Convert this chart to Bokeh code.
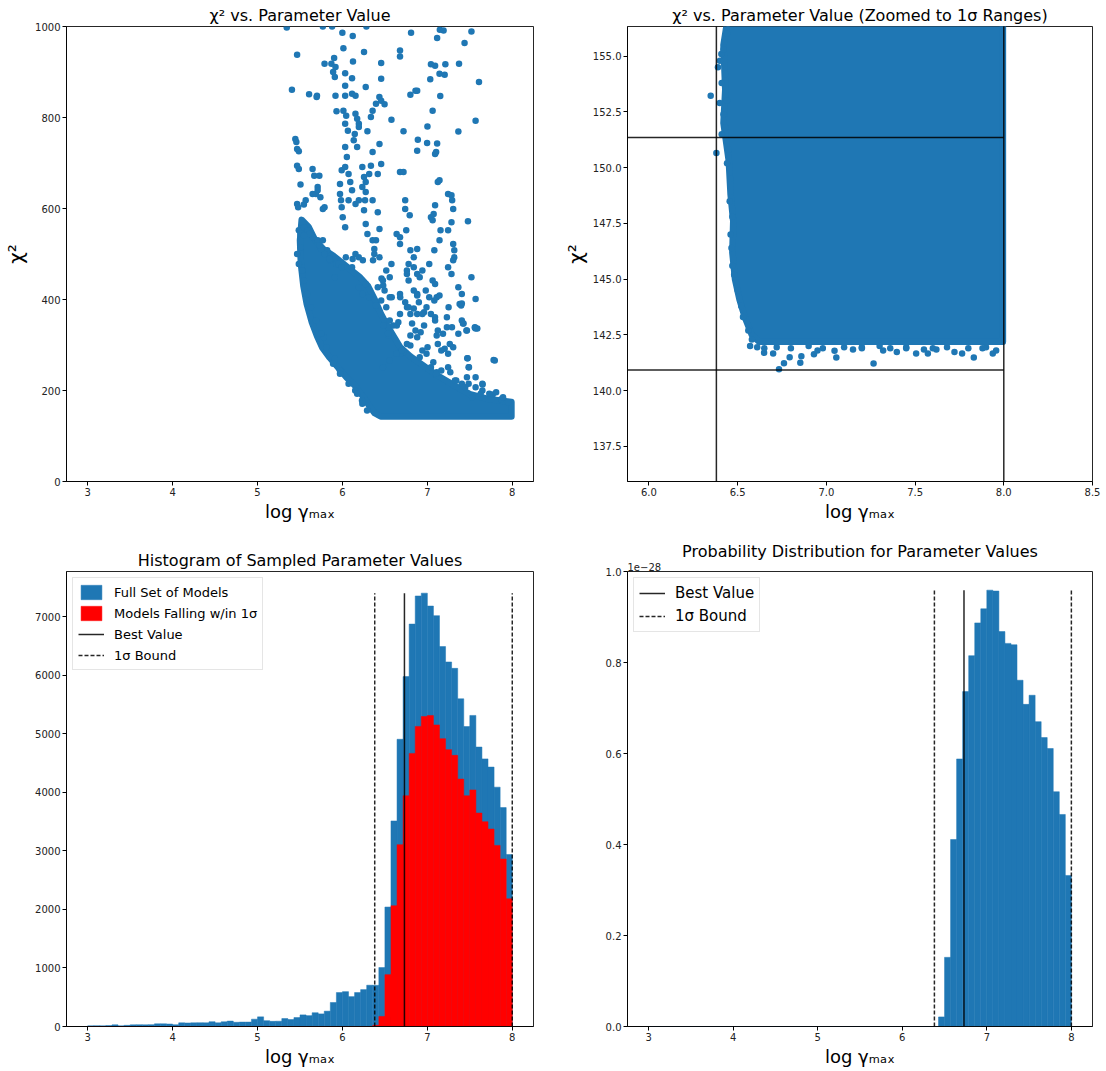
import numpy as np
from bokeh.plotting import figure
from bokeh.layouts import column, row
from bokeh.models import (FixedTicker, NumeralTickFormatter, Legend, LegendItem,
                          Title, Range1d)
from bokeh.embed import file_html
from bokeh.resources import INLINE

BLUE = "#1f77b4"
RED = "#ff0000"
FONT = "DejaVu Sans"

# ---------------- data ----------------
bin_lo, bin_hi, n_bins = 3.0, 8.0, 70

full_counts = [12, 14, 12, 16, 28, 12, 20, 28, 30, 28,
               32, 45, 45, 42, 30, 62, 60, 62, 64, 62,
               82, 62, 80, 92, 72, 75, 75, 125, 165, 100,
               88, 90, 135, 118, 152, 198, 185, 235, 215, 262,
               410, 580, 595, 510, 580, 630, 705, 703, 1007, 2040,
               3510, 4905, 5975, 6872, 7352, 7400, 7180, 7016, 6488, 6225,
               6116, 5596, 5122, 5312, 4772, 4570, 4430, 4087, 3738, 2936]

within_counts = [0] * 47 + [20, 172, 885,
                            2062, 3105, 3940, 4664, 5124, 5294, 5310, 5150, 4915, 4728,
                            4630, 4225, 3940, 4040, 3645, 3497, 3372, 3093, 2860, 2180]

# probability distribution, in units of 1e-28
prob_values = [0.0] * 48 + [0.021, 0.152, 0.411,
                            0.588, 0.736, 0.815, 0.887, 0.918, 0.959, 0.957, 0.868, 0.842, 0.839,
                            0.761, 0.708, 0.728, 0.670, 0.635, 0.611, 0.516, 0.466, 0.332]

best_value = 6.73
sigma_bounds = [6.38, 8.0]
chi2_best = 140.93
chi2_sigma = 151.35

# sparse models (chi2 vs log gamma_max)
outlier_logg = [5.344, 5.769, 5.878, 6.282, 5.999, 6.121, 7.147, 7.191, 7.519, 6.808, 7.115, 7.438, 5.466, 6.011, 6.254, 6.678, 6.678, 6.456, 6.124, 5.902, 5.789, 5.870, 5.918, 5.890, 5.910, 6.032, 6.113, 6.456, 7.042, 7.091, 7.143, 7.204, 7.034, 7.212, 7.373, 7.608, 5.405, 5.607, 5.700, 5.696, 5.918, 6.032, 6.113, 6.154, 6.274, 6.032, 6.800, 6.860, 6.880, 7.152, 6.435, 6.456, 6.395, 6.355, 6.335, 6.496, 5.930, 6.011, 6.044, 6.032, 6.064, 6.153, 6.173, 6.193, 6.193, 6.145, 6.133, 6.173, 6.294, 6.577, 6.719, 7.062, 7.568, 6.888, 6.880, 7.001, 7.103, 7.091, 7.365, 6.997, 7.115, 5.445, 5.457, 5.466, 5.486, 5.466, 5.486, 5.506, 5.648, 5.668, 5.728, 5.648, 5.688, 5.740, 5.789, 5.769, 5.567, 5.546, 5.466, 5.478, 5.708, 5.708, 5.991, 5.971, 5.971, 5.983, 5.991, 6.003, 6.032, 6.032, 6.052, 6.032, 6.072, 6.092, 6.113, 6.072, 6.154, 6.234, 6.254, 6.234, 6.274, 6.335, 6.315, 6.274, 6.355, 6.436, 6.456, 6.416, 6.193, 6.254, 6.266, 6.416, 6.355, 6.577, 6.436, 6.395, 6.375, 6.436, 6.274, 6.294, 6.355, 6.375, 6.678, 6.719, 6.739, 6.739, 6.792, 6.638, 6.678, 6.678, 6.751, 6.800, 6.840, 6.880, 6.779, 6.840, 6.880, 6.759, 6.759, 6.779, 6.840, 6.880, 6.900, 6.840, 6.880, 7.022, 6.941, 7.042, 7.062, 7.123, 7.143, 7.091, 7.155, 7.074, 7.143, 7.082, 7.062, 7.091, 6.981, 7.022, 7.082, 7.143, 7.042, 7.091, 6.961, 7.244, 7.284, 7.292, 7.304, 7.284, 7.244, 7.304, 7.317, 7.317, 7.304, 7.284, 7.244, 7.365, 7.406, 7.398, 7.406, 7.426, 7.466, 7.406, 7.365, 7.478, 7.519, 7.568, 7.568, 7.588, 7.474, 7.486, 7.794, 7.648, 7.123, 7.204, 7.244, 7.164, 7.264, 7.304, 7.184, 7.123, 7.002, 6.941, 6.921, 6.880, 6.800, 6.759, 6.699, 6.941, 6.961, 6.678, 6.658, 6.557, 6.516, 6.557, 6.597, 6.537, 6.416, 6.476, 6.496, 6.516, 6.456, 6.395, 6.234, 6.315, 6.274, 6.193, 6.153, 6.193, 6.113, 5.951, 5.991, 5.910, 5.789, 5.850, 5.749, 5.708, 5.728, 5.769, 5.607, 5.547, 6.678, 6.739, 6.779, 6.800, 6.557, 6.638, 6.557, 6.476, 7.042, 7.103, 7.164, 7.244, 7.325, 7.406, 7.486, 7.568, 7.648, 7.729, 7.810, 7.891, 7.952, 7.628, 7.527, 7.446, 7.568, 7.466]
outlier_chi2 = [998, 1000, 1000, 1000, 986, 979, 993, 991, 989, 986, 975, 964, 938, 952, 944, 947, 934, 920, 923, 931, 918, 918, 911, 900, 889, 897, 886, 885, 917, 914, 896, 894, 884, 917, 918, 878, 861, 851, 848, 845, 848, 848, 852, 848, 867, 870, 850, 859, 859, 847, 845, 837, 830, 815, 801, 829, 814, 815, 804, 786, 771, 808, 797, 786, 779, 764, 750, 735, 770, 795, 770, 815, 793, 751, 727, 780, 724, 720, 769, 744, 743, 753, 746, 731, 726, 694, 687, 653, 687, 672, 672, 632, 632, 625, 603, 599, 618, 609, 610, 603, 647, 640, 684, 654, 632, 618, 603, 581, 559, 735, 713, 691, 676, 658, 640, 618, 610, 691, 669, 647, 636, 694, 676, 658, 724, 742, 698, 676, 618, 596, 618, 592, 618, 478, 555, 530, 511, 493, 566, 544, 530, 500, 680, 680, 618, 599, 585, 544, 537, 522, 552, 508, 493, 511, 478, 471, 456, 464, 456, 442, 420, 412, 394, 380, 368, 478, 464, 581, 574, 658, 662, 607, 552, 588, 530, 508, 442, 434, 420, 405, 398, 409, 368, 354, 372, 632, 629, 618, 599, 570, 552, 522, 508, 493, 486, 456, 471, 427, 412, 387, 354, 347, 332, 391, 325, 572, 449, 401, 336, 336, 271, 251, 266, 215, 302, 292, 281, 288, 302, 295, 325, 332, 295, 288, 328, 317, 321, 302, 288, 368, 343, 368, 350, 405, 383, 354, 343, 325, 427, 442, 420, 464, 398, 387, 412, 405, 434, 427, 500, 493, 471, 478, 471, 449, 500, 489, 511, 530, 519, 530, 544, 541, 412, 394, 383, 368, 449, 281, 266, 251, 251, 237, 244, 251, 222, 215, 215, 207, 200, 193, 196, 185, 174, 193, 185, 207, 229, 229]

# models on the ragged edge of the densely sampled region
edge_logg = [6.64, 6.82, 6.86, 7.11, 7.23, 7.29, 7.46, 7.56, 7.47, 7.49, 7.78, 7.65, 7.77, 7.87, 7.34, 7.27,
             7.11, 7.07, 6.99, 6.91, 6.80, 6.72, 6.68, 6.54, 6.48, 5.78, 5.91, 5.97, 6.15, 6.23, 6.29,
             5.82, 5.85, 5.93, 6.04, 6.12, 6.24, 6.36, 6.46, 6.48, 6.58, 6.68, 6.76, 6.88, 6.91, 6.99,
             7.11, 7.09, 7.25, 7.23, 7.38, 7.42, 7.56, 5.486, 5.506, 5.546, 5.587, 5.627, 5.648, 5.506,
             5.466, 5.486, 5.526, 5.546, 5.587, 5.627, 5.688, 5.749, 5.809, 5.890, 5.971, 6.072, 6.173, 6.234]
edge_chi2 = [343, 347, 332, 321, 339, 339, 332, 338, 271, 251, 267, 213, 191, 181, 222, 240,
             240, 262, 281, 273, 299, 284, 281, 321, 343, 317, 270, 244, 200, 178, 156,
             508, 486, 478, 493, 489, 486, 486, 446, 431, 405, 405, 383, 409, 449, 383,
             405, 361, 383, 361, 390, 347, 339, 552, 544, 559, 552, 544, 537, 515,
             500, 478, 464, 442, 412, 383, 354, 325, 295, 259, 237, 215, 193, 171]

# outline of the densely sampled region (point centres)
dense_logg = [5.52, 5.60, 5.68, 5.78, 5.90, 6.00, 6.10, 6.20, 6.30, 6.38, 6.45, 6.52, 6.60, 6.68,
              6.80, 6.95, 7.10, 7.30, 7.50, 7.70, 7.85, 7.99,
              7.99, 6.45, 6.38, 6.32, 6.25, 6.15, 6.05, 5.95, 5.85, 5.76, 5.70, 5.64, 5.58,
              5.54, 5.51, 5.50]
dense_chi2 = [575, 560, 530, 510, 495, 480, 465, 450, 430, 400, 370, 345, 320, 295,
              275, 255, 235, 213, 192, 182, 178, 175,
              143, 143, 150, 165, 185, 210, 228, 250, 272, 295, 320, 350, 390,
              430, 480, 530]

# zoomed view (1 sigma ranges)
zoom_dense_logg = [6.45, 6.42, 6.43, 6.42, 6.45, 6.46, 6.475, 6.47, 6.485, 6.51, 6.54, 6.58, 6.62, 7.995, 7.995]
zoom_dense_chi2 = [157.0, 155.5, 153.5, 152.0, 150.3, 148.8, 147.6, 146.2, 145.0, 144.1, 143.3, 142.5, 142.2, 142.2, 157.0]
zoom_out_logg = [6.733, 6.761, 6.793, 6.853, 6.859, 6.930, 7.056, 7.046, 7.266, 7.397, 7.506, 7.572,
                 7.722, 7.765, 7.831, 7.938, 7.957, 6.649, 6.700, 6.570, 6.348, 6.380, 6.389, 6.408, 6.399,
                 7.15, 7.20, 7.32, 7.45, 7.55, 6.61, 6.95, 7.62, 7.88,
                 6.44, 6.42, 6.40, 6.43, 6.41, 6.44, 6.42, 6.43, 6.41, 6.45, 6.44, 6.46, 6.455, 6.47, 6.46,
                 6.465, 6.47, 6.48, 6.50, 6.52, 6.53, 6.56, 6.58,
                 6.65, 6.72, 6.80, 6.90, 6.98, 7.10, 7.20, 7.30, 7.36, 7.45, 7.60, 7.68, 7.80, 7.90]
zoom_out_chi2 = [140.96, 141.23, 141.50, 141.25, 141.55, 141.64, 141.49, 141.79, 141.22, 141.74, 141.67, 141.67,
                 141.74, 141.67, 141.49, 141.67, 141.80, 141.70, 141.67, 142.00, 153.23, 150.66, 154.50, 155.10, 152.90,
                 141.85, 141.95, 141.80, 141.90, 141.85, 141.95, 141.80, 141.85, 141.90,
                 156.0, 155.3, 154.8, 154.2, 153.8, 153.0, 152.4, 151.8, 151.5, 150.8, 150.2, 149.5, 148.5, 147.8, 147.0,
                 146.4, 145.6, 145.2, 144.5, 143.8, 143.3, 142.7, 142.3,
                 141.9, 141.95, 141.9, 142.0, 141.9, 141.95, 141.9, 142.0, 141.9, 141.95, 141.9, 141.95, 141.9, 141.95]

# tick positions
hist_xticks = [3, 4, 5, 6, 7, 8]
chi2_yticks = [0, 200, 400, 600, 800, 1000]
zoom_xticks = [6.0, 6.5, 7.0, 7.5, 8.0, 8.5]
zoom_yticks = [137.5, 140.0, 142.5, 145.0, 147.5, 150.0, 152.5, 155.0]
count_yticks = [0, 1000, 2000, 3000, 4000, 5000, 6000, 7000]
prob_yticks = [0.0, 0.2, 0.4, 0.6, 0.8, 1.0]

XLABEL = "log γₘₐₓ"

edges = np.linspace(bin_lo, bin_hi, n_bins + 1)
lefts, rights = edges[:-1], edges[1:]


def make_fig(width, height, xr, yr, borders, title):
    p = figure(width=width, height=height, x_range=Range1d(*xr), y_range=Range1d(*yr),
               output_backend="svg", toolbar_location=None, tools="",
               min_border_left=borders[0], min_border_right=borders[1],
               min_border_top=borders[2], min_border_bottom=borders[3])
    p.title.text = title
    p.title.text_font = FONT
    p.title.text_font_size = "16px"
    p.title.text_font_style = "normal"
    p.title.align = "center"
    p.title.text_color = "black"
    p.title.standoff = 3
    p.xgrid.visible = False
    p.ygrid.visible = False
    p.outline_line_color = "black"
    p.outline_line_width = 1
    p.outline_line_alpha = 0.85
    for ax in (p.xaxis[0], p.yaxis[0]):
        ax.major_tick_out = 4
        ax.major_tick_in = 0
        ax.minor_tick_line_color = None
        ax.major_label_text_font = FONT
        ax.major_label_text_font_size = "10px"
        ax.major_label_text_color = "#222222"
        ax.major_label_standoff = 2
        ax.axis_line_color = "black"
        ax.axis_line_alpha = 0.85
        ax.major_tick_line_color = "black"
        ax.axis_label_text_font = FONT
        ax.axis_label_text_font_style = "normal"
        ax.axis_label_text_color = "black"
    p.xaxis.axis_label = XLABEL
    p.xaxis.axis_label_text_font_size = "18px"
    p.xaxis.axis_label_standoff = 2
    p.background_fill_color = "white"
    p.border_fill_color = "white"
    return p


LW, RW = 557, 548
TH, BH = 526, 545
LB = (66, 24)
RB = (70, 13)

# ---------- top-left ----------
p1 = make_fig(LW, TH, (2.75, 8.25), (0, 1000), (LB[0], LB[1], 26, 45), "χ² vs. Parameter Value")
p1.patch(dense_logg, dense_chi2, fill_color=BLUE, line_color=BLUE, line_width=6.5, line_join="round")
p1.scatter(edge_logg, edge_chi2, size=6.5, fill_color=BLUE, line_color=None)
p1.scatter(outlier_logg, outlier_chi2, size=6.5, fill_color=BLUE, line_color=None)
p1.xaxis.ticker = FixedTicker(ticks=hist_xticks)
p1.yaxis.ticker = FixedTicker(ticks=chi2_yticks)
p1.yaxis.axis_label = "χ²"
p1.yaxis.axis_label_text_font_size = "20px"
p1.yaxis.axis_label_standoff = 4

# ---------- top-right ----------
p2 = make_fig(RW, TH, (5.879, 8.5), (135.93, 156.33), (RB[0], RB[1], 26, 45),
              "χ² vs. Parameter Value (Zoomed to 1σ Ranges)")
p2.patch(zoom_dense_logg, zoom_dense_chi2, fill_color=BLUE, line_color=BLUE, line_width=6.5, line_join="round")
p2.scatter(zoom_out_logg, zoom_out_chi2, size=6.5, fill_color=BLUE, line_color=None)
p2.segment(x0=[4.0, 4.0], y0=[chi2_best, chi2_sigma], x1=[sigma_bounds[1]] * 2, y1=[chi2_best, chi2_sigma],
           line_color="black", line_width=1.5, line_alpha=0.85)
p2.segment(x0=sigma_bounds, y0=[120, 120], x1=sigma_bounds, y1=[170, 170],
           line_color="black", line_width=1.5, line_alpha=0.85)
p2.xaxis.ticker = FixedTicker(ticks=zoom_xticks)
p2.yaxis.ticker = FixedTicker(ticks=zoom_yticks)
p2.xaxis.formatter = NumeralTickFormatter(format="0.0")
p2.yaxis.formatter = NumeralTickFormatter(format="0.0")
p2.yaxis.axis_label = "χ²"
p2.yaxis.axis_label_text_font_size = "20px"
p2.yaxis.axis_label_standoff = 2

# ---------- bottom-left ----------
vtop_counts = max(full_counts)
p3 = make_fig(LW, BH, (2.75, 8.25), (0, vtop_counts * 1.05), (LB[0], LB[1], 45, 45),
              "Histogram of Sampled Parameter Values")
r_full = p3.quad(left=lefts, right=rights, bottom=0, top=full_counts,
                 fill_color=BLUE, line_color=BLUE, line_width=0.5)
r_in = p3.quad(left=lefts, right=rights, bottom=0, top=within_counts,
               fill_color=RED, line_color=RED, line_width=0.5)
r_best = p3.segment(x0=[best_value], y0=[0], x1=[best_value], y1=[vtop_counts],
                    line_color="black", line_width=1.5, line_alpha=0.85)
r_bound = p3.segment(x0=sigma_bounds, y0=[0, 0], x1=sigma_bounds, y1=[vtop_counts] * 2,
                     line_color="black", line_width=1.5, line_alpha=0.85, line_dash="4 2")
p3.xaxis.ticker = FixedTicker(ticks=hist_xticks)
p3.yaxis.ticker = FixedTicker(ticks=count_yticks)
leg3 = Legend(items=[LegendItem(label="Full Set of Models", renderers=[r_full]),
                     LegendItem(label="Models Falling w/in 1σ", renderers=[r_in]),
                     LegendItem(label="Best Value", renderers=[r_best]),
                     LegendItem(label="1σ Bound", renderers=[r_bound])],
              location="top_left")
p3.add_layout(leg3)

# ---------- bottom-right ----------
vtop_prob = max(prob_values)
p4 = make_fig(RW, BH, (2.75, 8.25), (0, 1.0), (RB[0], RB[1], 45, 45),
              "Probability Distribution for Parameter Values")
p4.quad(left=lefts, right=rights, bottom=0, top=prob_values,
        fill_color=BLUE, line_color=BLUE, line_width=0.5)
r_best4 = p4.segment(x0=[best_value], y0=[0], x1=[best_value], y1=[vtop_prob],
                     line_color="black", line_width=1.5, line_alpha=0.85)
r_bound4 = p4.segment(x0=sigma_bounds, y0=[0, 0], x1=sigma_bounds, y1=[vtop_prob] * 2,
                      line_color="black", line_width=1.5, line_alpha=0.85, line_dash="4 2")
p4.xaxis.ticker = FixedTicker(ticks=hist_xticks)
p4.yaxis.ticker = FixedTicker(ticks=prob_yticks)
p4.yaxis.formatter = NumeralTickFormatter(format="0.0")
leg4 = Legend(items=[LegendItem(label="Best Value", renderers=[r_best4]),
                     LegendItem(label="1σ Bound", renderers=[r_bound4])],
              location="top_left")
p4.add_layout(leg4)
p4.title.standoff = 0
p4.add_layout(Title(text="1e−28", align="left", text_font=FONT, text_font_size="10px",
                    text_font_style="normal", text_color="#222222", standoff=1, offset=0), "above")

for lg, fs, gh in ((leg3, "13px", 18), (leg4, "15px", 20)):
    lg.label_text_font = FONT
    lg.label_text_font_size = fs
    lg.label_text_color = "black"
    lg.glyph_width = 26
    lg.glyph_height = gh
    lg.label_height = gh
    lg.spacing = 3
    lg.padding = 5
    lg.margin = 6
    lg.label_standoff = 10
    lg.border_line_color = "#cccccc"
    lg.background_fill_alpha = 0.85

layout = column(row(p1, p2), row(p3, p4))
open("out.html", "w").write(file_html(layout, INLINE))
